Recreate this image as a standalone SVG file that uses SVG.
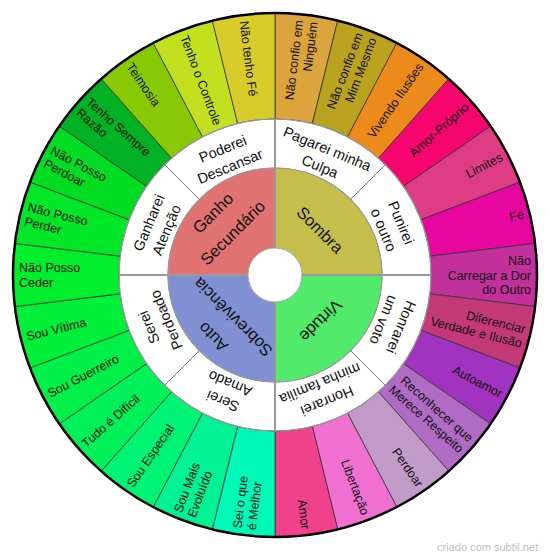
<svg xmlns="http://www.w3.org/2000/svg" width="550" height="560" viewBox="0 0 550 560">
<style>
.seg{stroke:#333;stroke-width:0.8}
.mid{fill:#fff;stroke:#666;stroke-width:0.8}
.inn{stroke:none}
text{font-family:"Liberation Sans",Arial,sans-serif;fill:#111}
.o{font-size:12.5px}
.oe{text-anchor:end}
.os{text-anchor:start}
.m{font-size:14.5px;text-anchor:middle}
.i{font-size:16.5px;text-anchor:middle}
.ax{stroke:#999;stroke-width:2;fill:none}
.dg{stroke:#666;stroke-width:0.8;fill:none}
</style>
<rect width="550" height="560" fill="#fff"/>
<g id="outer-ring">
<g id="o0"><path class="seg" fill="#dca43c" d="M275,13 A262,262 0 0 1 337.70,20.61 L312.33,123.53 A156,156 0 0 0 275,119Z"/><text class="o oe" transform="translate(275,275) rotate(-83.077)"><tspan x="256" y="-2.75">Não confio em</tspan><tspan x="256" y="11.75">Ninguém</tspan></text></g>
<g id="o1"><path class="seg" fill="#b8a21e" d="M337.70,20.61 A262,262 0 0 1 396.76,43.01 L347.50,136.87 A156,156 0 0 0 312.33,123.53Z"/><text class="o oe" transform="translate(275,275) rotate(-69.231)"><tspan x="256" y="-2.75">Não confio em</tspan><tspan x="256" y="11.75">Mim Mesmo</tspan></text></g>
<g id="o2"><path class="seg" fill="#ec8a1c" d="M396.76,43.01 A262,262 0 0 1 448.74,78.89 L378.45,158.23 A156,156 0 0 0 347.50,136.87Z"/><text class="o oe" transform="translate(275,275) rotate(-55.385)" x="256" y="4.5">Vivendo Ilusões</text></g>
<g id="o3"><path class="seg" fill="#f4066e" d="M448.74,78.89 A262,262 0 0 1 490.62,126.17 L403.38,186.38 A156,156 0 0 0 378.45,158.23Z"/><text class="o oe" transform="translate(275,275) rotate(-41.538)" x="256" y="4.5">Amor-Próprio</text></g>
<g id="o4"><path class="seg" fill="#de3c84" d="M490.62,126.17 A262,262 0 0 1 519.98,182.09 L420.86,219.68 A156,156 0 0 0 403.38,186.38Z"/><text class="o oe" transform="translate(275,275) rotate(-27.692)" x="256" y="4.5">Limites</text></g>
<g id="o5"><path class="seg" fill="#e806a0" d="M519.98,182.09 A262,262 0 0 1 535.09,243.42 L429.86,256.20 A156,156 0 0 0 420.86,219.68Z"/><text class="o oe" transform="translate(275,275) rotate(-13.846)" x="256" y="4.5">Fé</text></g>
<g id="o6"><path class="seg" fill="#c2309c" d="M535.09,243.42 A262,262 0 0 1 535.09,306.58 L429.86,293.80 A156,156 0 0 0 429.86,256.20Z"/><text class="o oe" transform="translate(275,275)"><tspan x="256" y="-10">Não</tspan><tspan x="256" y="4.5">Carregar a Dor</tspan><tspan x="256" y="19">do Outro</tspan></text></g>
<g id="o7"><path class="seg" fill="#c43a78" d="M535.09,306.58 A262,262 0 0 1 519.98,367.91 L420.86,330.32 A156,156 0 0 0 429.86,293.80Z"/><text class="o oe" transform="translate(275,275) rotate(13.846)"><tspan x="256" y="-2.75">Diferenciar</tspan><tspan x="256" y="11.75">Verdade e Ilusão</tspan></text></g>
<g id="o8"><path class="seg" fill="#a232c0" d="M519.98,367.91 A262,262 0 0 1 490.62,423.83 L403.38,363.62 A156,156 0 0 0 420.86,330.32Z"/><text class="o oe" transform="translate(275,275) rotate(27.692)" x="256" y="4.5">Autoamor</text></g>
<g id="o9"><path class="seg" fill="#b06cc4" d="M490.62,423.83 A262,262 0 0 1 448.74,471.11 L378.45,391.77 A156,156 0 0 0 403.38,363.62Z"/><text class="o oe" transform="translate(275,275) rotate(41.538)"><tspan x="256" y="-2.75">Reconhecer que</tspan><tspan x="256" y="11.75">Merece Respeito</tspan></text></g>
<g id="o10"><path class="seg" fill="#c29ac8" d="M448.74,471.11 A262,262 0 0 1 396.76,506.99 L347.50,413.13 A156,156 0 0 0 378.45,391.77Z"/><text class="o oe" transform="translate(275,275) rotate(55.385)" x="256" y="4.5">Perdoar</text></g>
<g id="o11"><path class="seg" fill="#f070d2" d="M396.76,506.99 A262,262 0 0 1 337.70,529.39 L312.33,426.47 A156,156 0 0 0 347.50,413.13Z"/><text class="o oe" transform="translate(275,275) rotate(69.231)" x="256" y="4.5">Libertação</text></g>
<g id="o12"><path class="seg" fill="#f0428c" d="M337.70,529.39 A262,262 0 0 1 275,537 L275,431 A156,156 0 0 0 312.33,426.47Z"/><text class="o oe" transform="translate(275,275) rotate(83.077)" x="256" y="4.5">Amor</text></g>
<g id="o13"><path class="seg" fill="#00f8b8" d="M275,537 A262,262 0 0 1 212.30,529.39 L237.67,426.47 A156,156 0 0 0 275,431Z"/><text class="o os" transform="translate(275,275) rotate(-83.077)"><tspan x="-256" y="-2.75">Sei o que</tspan><tspan x="-256" y="11.75">é Melhor</tspan></text></g>
<g id="o14"><path class="seg" fill="#00f294" d="M212.30,529.39 A262,262 0 0 1 153.24,506.99 L202.50,413.13 A156,156 0 0 0 237.67,426.47Z"/><text class="o os" transform="translate(275,275) rotate(-69.231)"><tspan x="-256" y="-2.75">Sou Mais</tspan><tspan x="-256" y="11.75">Evoluído</tspan></text></g>
<g id="o15"><path class="seg" fill="#00f474" d="M153.24,506.99 A262,262 0 0 1 101.26,471.11 L171.55,391.77 A156,156 0 0 0 202.50,413.13Z"/><text class="o os" transform="translate(275,275) rotate(-55.385)" x="-256" y="4.5">Sou Especial</text></g>
<g id="o16"><path class="seg" fill="#00f05a" d="M101.26,471.11 A262,262 0 0 1 59.38,423.83 L146.62,363.62 A156,156 0 0 0 171.55,391.77Z"/><text class="o os" transform="translate(275,275) rotate(-41.538)" x="-256" y="4.5">Tudo é Difícil</text></g>
<g id="o17"><path class="seg" fill="#00f048" d="M59.38,423.83 A262,262 0 0 1 30.02,367.91 L129.14,330.32 A156,156 0 0 0 146.62,363.62Z"/><text class="o os" transform="translate(275,275) rotate(-27.692)" x="-256" y="4.5">Sou Guerreiro</text></g>
<g id="o18"><path class="seg" fill="#00f03a" d="M30.02,367.91 A262,262 0 0 1 14.91,306.58 L120.14,293.80 A156,156 0 0 0 129.14,330.32Z"/><text class="o os" transform="translate(275,275) rotate(-13.846)" x="-256" y="4.5">Sou Vítima</text></g>
<g id="o19"><path class="seg" fill="#00ee2c" d="M14.91,306.58 A262,262 0 0 1 14.91,243.42 L120.14,256.20 A156,156 0 0 0 120.14,293.80Z"/><text class="o os" transform="translate(275,275)"><tspan x="-256" y="-2.75">Não Posso</tspan><tspan x="-256" y="11.75">Ceder</tspan></text></g>
<g id="o20"><path class="seg" fill="#02e628" d="M14.91,243.42 A262,262 0 0 1 30.02,182.09 L129.14,219.68 A156,156 0 0 0 120.14,256.20Z"/><text class="o os" transform="translate(275,275) rotate(13.846)"><tspan x="-256" y="-2.75">Não Posso</tspan><tspan x="-256" y="11.75">Perder</tspan></text></g>
<g id="o21"><path class="seg" fill="#02dc22" d="M30.02,182.09 A262,262 0 0 1 59.38,126.17 L146.62,186.38 A156,156 0 0 0 129.14,219.68Z"/><text class="o os" transform="translate(275,275) rotate(27.692)"><tspan x="-256" y="-2.75">Não Posso</tspan><tspan x="-256" y="11.75">Perdoar</tspan></text></g>
<g id="o22"><path class="seg" fill="#00b224" d="M59.38,126.17 A262,262 0 0 1 101.26,78.89 L171.55,158.23 A156,156 0 0 0 146.62,186.38Z"/><text class="o os" transform="translate(275,275) rotate(41.538)"><tspan x="-256" y="-2.75">Tenho Sempre</tspan><tspan x="-256" y="11.75">Razão</tspan></text></g>
<g id="o23"><path class="seg" fill="#88c804" d="M101.26,78.89 A262,262 0 0 1 153.24,43.01 L202.50,136.87 A156,156 0 0 0 171.55,158.23Z"/><text class="o os" transform="translate(275,275) rotate(55.385)" x="-256" y="4.5">Teimosia</text></g>
<g id="o24"><path class="seg" fill="#c2e020" d="M153.24,43.01 A262,262 0 0 1 212.30,20.61 L237.67,123.53 A156,156 0 0 0 202.50,136.87Z"/><text class="o os" transform="translate(275,275) rotate(69.231)" x="-256" y="4.5">Tenho o Controle</text></g>
<g id="o25"><path class="seg" fill="#d8cc2a" d="M212.30,20.61 A262,262 0 0 1 275,13 L275,119 A156,156 0 0 0 237.67,123.53Z"/><text class="o os" transform="translate(275,275) rotate(83.077)" x="-256" y="4.5">Não tenho Fé</text></g>
</g>
<g id="middle-ring">
<g id="m0"><path class="mid" d="M275,119 A156,156 0 0 1 385.31,164.69 L350.66,199.34 A107,107 0 0 0 275,168Z"/><text class="m" transform="translate(275,275) rotate(22.5)"><tspan x="0" y="-131.5">Pagarei minha</tspan><tspan x="0" y="-112.5">Culpa</tspan></text></g>
<g id="m1"><path class="mid" d="M385.31,164.69 A156,156 0 0 1 431,275 L382,275 A107,107 0 0 0 350.66,199.34Z"/><text class="m" transform="translate(275,275) rotate(67.5)"><tspan x="0" y="-131.5">Punirei</tspan><tspan x="0" y="-112.5">o outro</tspan></text></g>
<g id="m2"><path class="mid" d="M431,275 A156,156 0 0 1 385.31,385.31 L350.66,350.66 A107,107 0 0 0 382,275Z"/><text class="m" transform="translate(275,275) rotate(112.5)"><tspan x="0" y="-131.5">Honrarei</tspan><tspan x="0" y="-112.5">um voto</tspan></text></g>
<g id="m3"><path class="mid" d="M385.31,385.31 A156,156 0 0 1 275,431 L275,382 A107,107 0 0 0 350.66,350.66Z"/><text class="m" transform="translate(275,275) rotate(157.5)"><tspan x="0" y="-131.5">Honrarei</tspan><tspan x="0" y="-112.5">minha família</tspan></text></g>
<g id="m4"><path class="mid" d="M275,431 A156,156 0 0 1 164.69,385.31 L199.34,350.66 A107,107 0 0 0 275,382Z"/><text class="m" transform="translate(275,275) rotate(202.5)"><tspan x="0" y="-131.5">Serei</tspan><tspan x="0" y="-112.5">Amado</tspan></text></g>
<g id="m5"><path class="mid" d="M164.69,385.31 A156,156 0 0 1 119,275 L168,275 A107,107 0 0 0 199.34,350.66Z"/><text class="m" transform="translate(275,275) rotate(247.5)"><tspan x="0" y="-131.5">Serei</tspan><tspan x="0" y="-112.5">Perdoado</tspan></text></g>
<g id="m6"><path class="mid" d="M119,275 A156,156 0 0 1 164.69,164.69 L199.34,199.34 A107,107 0 0 0 168,275Z"/><text class="m" transform="translate(275,275) rotate(292.5)"><tspan x="0" y="-131.5">Ganharei</tspan><tspan x="0" y="-112.5">Atenção</tspan></text></g>
<g id="m7"><path class="mid" d="M164.69,164.69 A156,156 0 0 1 275,119 L275,168 A107,107 0 0 0 199.34,199.34Z"/><text class="m" transform="translate(275,275) rotate(337.5)"><tspan x="0" y="-131.5">Poderei</tspan><tspan x="0" y="-112.5">Descansar</tspan></text></g>
</g>
<g id="inner-ring">
<g id="sombra"><path class="inn" fill="#c6be4c" d="M275,168 A107,107 0 0 1 382,275 L302,275 A27,27 0 0 0 275,248Z"/><text class="i" transform="translate(275,275) rotate(45)" x="0" y="-58">Sombra</text></g>
<g id="virtude"><path class="inn" fill="#52ea6a" d="M382,275 A107,107 0 0 1 275,382 L275,302 A27,27 0 0 0 302,275Z"/><text class="i" transform="translate(275,275) rotate(135)" x="0" y="-59">Virtude</text></g>
<g id="auto-sobrevivencia"><path class="inn" fill="#8090d2" d="M275,382 A107,107 0 0 1 168,275 L248,275 A27,27 0 0 0 275,302Z"/><text class="i" transform="translate(275,275) rotate(225)"><tspan x="0" y="-82">Auto</tspan><tspan x="0" y="-54">Sobrevivência</tspan></text></g>
<g id="ganho-secundario"><path class="inn" fill="#e07272" d="M168,275 A107,107 0 0 1 275,168 L275,248 A27,27 0 0 0 248,275Z"/><text class="i" transform="translate(275,275) rotate(315)"><tspan x="0" y="-82">Ganho</tspan><tspan x="0" y="-54">Secundário</tspan></text></g>
</g>
<g id="connectors">
<circle cx="275" cy="275" r="107" fill="none" stroke="#999" stroke-width="1.2"/>
<circle cx="275" cy="275" r="156" fill="none" stroke="#999" stroke-width="1.2"/>
<line class="ax" x1="275" y1="119" x2="275" y2="248"/>
<line class="ax" x1="275" y1="302" x2="275" y2="431"/>
<line class="ax" x1="119" y1="275" x2="248" y2="275"/>
<line class="ax" x1="302" y1="275" x2="431" y2="275"/>
<circle cx="275" cy="275" r="27" fill="#fff" stroke="#aaa" stroke-width="1"/>
<circle cx="275" cy="275" r="262" fill="none" stroke="#000" stroke-width="2.5"/>
</g>
<text x="538" y="551" font-size="11" text-anchor="end" style="fill:#c0c0c0">criado com subtil.net</text>
</svg>
